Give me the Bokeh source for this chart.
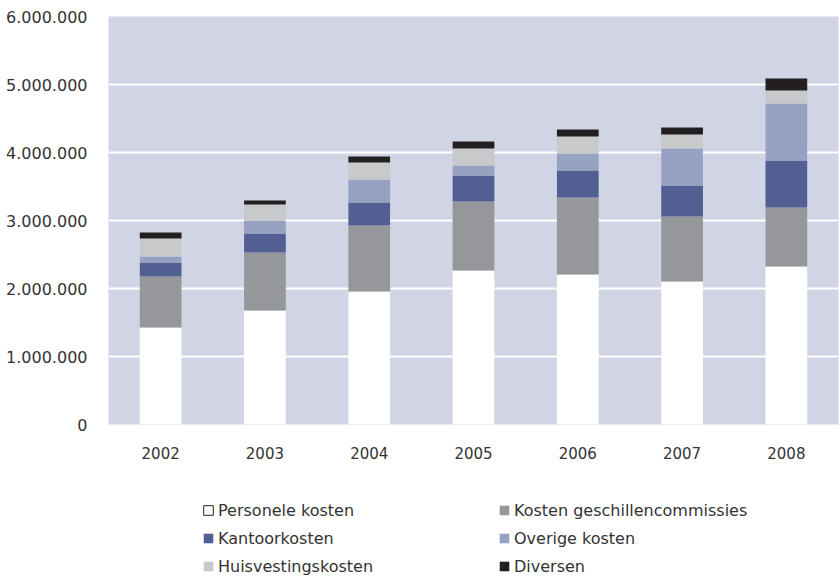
from bokeh.plotting import figure
from bokeh.layouts import column
from bokeh.models import ColumnDataSource, FactorRange, Range1d, FixedTicker, Legend, LegendItem
from bokeh.embed import file_html
from bokeh.resources import INLINE

years = ["2002", "2003", "2004", "2005", "2006", "2007", "2008"]
personele = [1426000, 1676000, 1956000, 2265000, 2206000, 2103000, 2324000]
geschil = [750000, 853000, 971000, 1015000, 1132000, 956000, 867000]
kantoor = [206000, 279000, 338000, 382000, 397000, 456000, 691000]
overige = [88000, 191000, 338000, 147000, 250000, 544000, 838000]
huis = [265000, 235000, 250000, 250000, 250000, 206000, 191000]
diversen = [88000, 59000, 88000, 103000, 103000, 103000, 176000]

series_keys = ["personele", "geschil", "kantoor", "overige", "huis", "diversen"]
series_labels = ["Personele kosten", "Kosten geschillencommissies", "Kantoorkosten",
                 "Overige kosten", "Huisvestingskosten", "Diversen"]
colors = ["#FFFFFF", "#96979B", "#525F92", "#97A1C2", "#C8C9CB", "#231F20"]

y_ticks = [0, 1000000, 2000000, 3000000, 4000000, 5000000, 6000000]
y_tick_labels = ["0", "1.000.000", "2.000.000", "3.000.000", "4.000.000", "5.000.000", "6.000.000"]

source = ColumnDataSource(data=dict(years=years, personele=personele, geschil=geschil,
                                    kantoor=kantoor, overige=overige, huis=huis, diversen=diversen))

FONT = "DejaVu Sans"
TEXT = "#333333"

p = figure(x_range=FactorRange(*years), y_range=Range1d(0, 6000000),
           width=840, height=490, output_backend="svg", toolbar_location=None,
           min_border_left=108, min_border_right=2, min_border_top=16, min_border_bottom=66)
p.background_fill_color = "#D0D4E5"
p.border_fill_color = "white"
p.outline_line_color = None

p.vbar_stack(series_keys, x="years", width=0.4, source=source,
             fill_color=colors, line_color=None)

p.ygrid.ticker = FixedTicker(ticks=y_ticks)
p.ygrid.grid_line_color = "white"
p.ygrid.grid_line_width = 2
p.xgrid.grid_line_color = None

p.yaxis.ticker = FixedTicker(ticks=y_ticks)
p.yaxis.major_label_overrides = {t: s for t, s in zip(y_ticks, y_tick_labels)}
for ax in (p.xaxis[0], p.yaxis[0]):
    ax.axis_line_color = None
    ax.major_tick_line_color = None
    ax.minor_tick_line_color = None
    ax.major_tick_in = 0
    ax.major_tick_out = 0
    ax.minor_tick_in = 0
    ax.minor_tick_out = 0
    ax.major_label_text_font = FONT
    ax.major_label_text_color = TEXT
p.yaxis.major_label_text_font_size = "16px"
p.yaxis.major_label_standoff = 21
p.xaxis.major_label_text_font_size = "15px"
p.xaxis.major_label_standoff = 22

# legend figure (proxy glyphs sit outside the visible range)
lp = figure(width=840, height=86, output_backend="svg", toolbar_location=None,
            x_range=Range1d(0, 1), y_range=Range1d(0, 1),
            x_axis_location=None, y_axis_location=None, min_border=0)
lp.outline_line_color = None
lp.grid.visible = False
lp.background_fill_color = "white"
lp.border_fill_color = "white"

proxy = {}
for lab, col in zip(series_labels, colors):
    proxy[lab] = lp.vbar(x=[-10], top=[-10], bottom=[-10], width=0.4, fill_color=col,
                         line_color="#231F20" if col == "#FFFFFF" else None, line_width=1)

# legend is filled column by column: left column first, then right column
order = [0, 2, 4, 1, 3, 5]
items = [LegendItem(label=series_labels[i], renderers=[proxy[series_labels[i]]]) for i in order]

legend = Legend(items=items, ncols=2, location=(94, 0),
                glyph_width=12, glyph_height=12, label_standoff=4,
                label_width=272, label_height=20, spacing=8,
                padding=0, margin=0, border_line_color=None,
                background_fill_alpha=0,
                label_text_font=FONT, label_text_font_size="16px", label_text_color=TEXT)
lp.add_layout(legend, "center")

layout = column(p, lp, spacing=0)
open("out.html", "w").write(file_html(layout, INLINE))
